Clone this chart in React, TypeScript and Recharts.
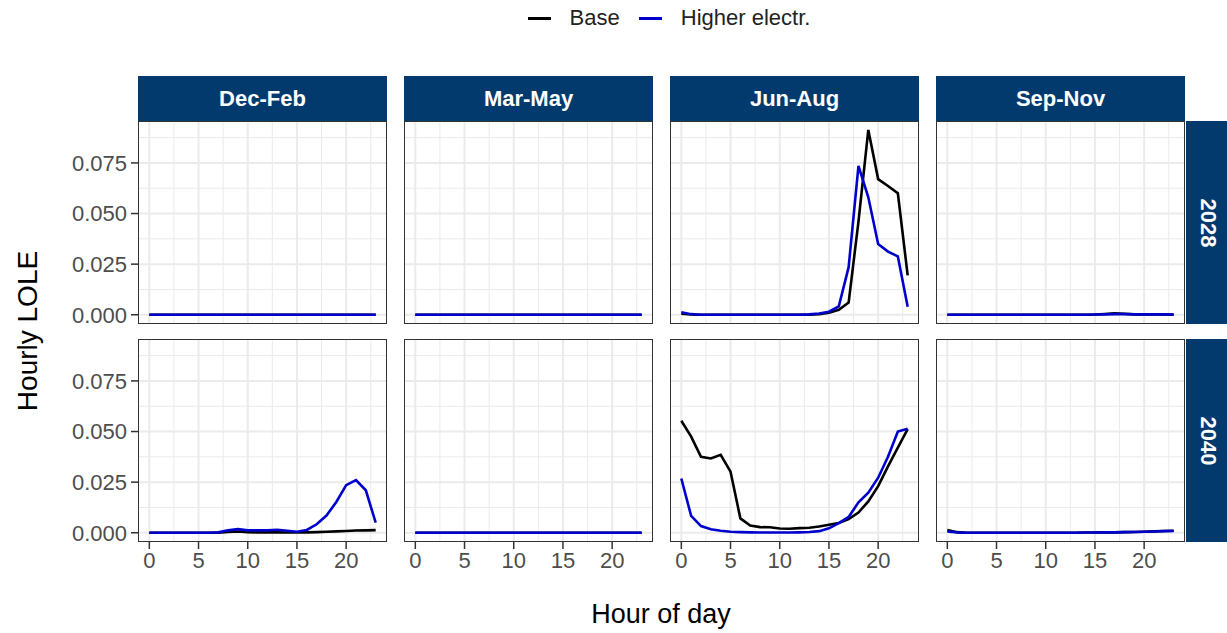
import React from "react";
import { CartesianGrid, Line, LineChart, XAxis, YAxis } from "recharts";

// hour of day, shared by every panel
const hours = [0, 1, 2, 3, 4, 5, 6, 7, 8, 9, 10, 11, 12, 13, 14, 15, 16, 17, 18, 19, 20, 21, 22, 23];

const seasons = ["Dec-Feb", "Mar-May", "Jun-Aug", "Sep-Nov"];
const years = ["2028", "2040"];

const yTicks = [0, 0.025, 0.05, 0.075];
const yMinor = [0.0125, 0.0375, 0.0625, 0.0875];
const xTicks = [0, 5, 10, 15, 20];
const xMinor = [2.5, 7.5, 12.5, 17.5, 22.5];

const zeros = [0, 0, 0, 0, 0, 0, 0, 0, 0, 0, 0, 0, 0, 0, 0, 0, 0, 0, 0, 0, 0, 0, 0, 0];

// 2028
const decFeb2028Base = zeros;
const decFeb2028High = zeros;
const marMay2028Base = zeros;
const marMay2028High = zeros;
const junAug2028Base = [0.0005, 0.0001, 0, 0, 0, 0, 0, 0, 0, 0, 0, 0, 0, 0, 0.0003, 0.001, 0.0025, 0.006, 0.046, 0.0913, 0.067, 0.0636, 0.06, 0.0195];
const junAug2028High = [0.0012, 0.0003, 0, 0, 0, 0, 0, 0, 0, 0, 0, 0, 0, 0.0002, 0.0006, 0.0015, 0.0042, 0.0235, 0.0735, 0.058, 0.035, 0.0312, 0.0288, 0.004];
const sepNov2028Base = [0, 0, 0, 0, 0, 0, 0, 0, 0, 0, 0, 0, 0, 0, 0, 0.0001, 0.0004, 0.0007, 0.0005, 0.0002, 0.0002, 0.0002, 0.0001, 0];
const sepNov2028High = [0, 0, 0, 0, 0, 0, 0, 0, 0, 0, 0, 0, 0, 0, 0, 0.0001, 0.0002, 0.0003, 0.0003, 0.0002, 0.0002, 0.0002, 0.0002, 0.0001];

// 2040
const decFeb2040Base = [0, 0, 0, 0, 0, 0, 0, 0, 0.0004, 0.0006, 0.0003, 0.0002, 0.0002, 0.0002, 0.0001, 0.0001, 0.0002, 0.0003, 0.0005, 0.0007, 0.0009, 0.0011, 0.0012, 0.0013];
const decFeb2040High = [0, 0, 0, 0, 0, 0, 0, 0.0002, 0.0012, 0.0018, 0.0012, 0.0012, 0.0012, 0.0015, 0.001, 0.0005, 0.0014, 0.0042, 0.0085, 0.0152, 0.0235, 0.026, 0.021, 0.005];
const marMay2040Base = zeros;
const marMay2040High = zeros;
const junAug2040Base = [0.0553, 0.0475, 0.0375, 0.0367, 0.0385, 0.0302, 0.0071, 0.0036, 0.0028, 0.0027, 0.0021, 0.002, 0.0023, 0.0025, 0.0031, 0.004, 0.0048, 0.0068, 0.01, 0.0155, 0.023, 0.0328, 0.042, 0.0512];
const junAug2040High = [0.0268, 0.0083, 0.0033, 0.0017, 0.001, 0.0005, 0.0003, 0.0002, 0.0001, 0.0001, 0.0001, 0.0001, 0.0002, 0.0004, 0.0008, 0.0022, 0.0048, 0.0078, 0.015, 0.0198, 0.0272, 0.0375, 0.05, 0.0514];
const sepNov2040Base = [0.0013, 0.0003, 0, 0, 0, 0, 0, 0, 0, 0, 0, 0, 0, 0, 0.0001, 0.0001, 0.0002, 0.0002, 0.0003, 0.0004, 0.0005, 0.0007, 0.0009, 0.001];
const sepNov2040High = [0.0007, 0.0002, 0, 0, 0, 0, 0, 0, 0, 0, 0, 0, 0, 0, 0.0001, 0.0001, 0.0002, 0.0002, 0.0003, 0.0004, 0.0005, 0.0006, 0.0008, 0.0009];

const series: Record<string, [number[], number[]][]> = {
  "2028": [
    [decFeb2028Base, decFeb2028High],
    [marMay2028Base, marMay2028High],
    [junAug2028Base, junAug2028High],
    [sepNov2028Base, sepNov2028High],
  ],
  "2040": [
    [decFeb2040Base, decFeb2040High],
    [marMay2040Base, marMay2040High],
    [junAug2040Base, junAug2040High],
    [sepNov2040Base, sepNov2040High],
  ],
};

const NAVY = "#033a6e";
const BLUE = "#0000cd";
const GRID = "#ebebeb";
const FONT = "'Liberation Sans', Arial, sans-serif";

const PANEL_W = 249;
const PANEL_H = 203;
const COL_X = [138, 404, 670, 936];
const ROW_Y = [121, 339];
const STRIP_TOP = 76;
const Y_AXIS_W = 80;
const X_AXIS_H = 40;
// spare room under top-row panels so the lowest tick label is not clipped
const PAD_B = 14;

function Panel({ row, col }: { row: number; col: number }) {
  const year = years[row];
  const [base, high] = series[year][col];
  const data = hours.map((h, i) => ({ hour: h, base: base[i], high: high[i] }));
  const showY = col === 0;
  const showX = row === 1;
  const padB = showX ? 0 : PAD_B;
  const left = COL_X[col] - (showY ? Y_AXIS_W : 0);
  const width = PANEL_W + (showY ? Y_AXIS_W : 0);
  const height = PANEL_H + (showX ? X_AXIS_H : 0) + padB;

  return (
    <>
      <div style={{ position: "absolute", left, top: ROW_Y[row] }}>
        <LineChart width={width} height={height} data={data} margin={{ top: 0, right: 0, bottom: padB, left: 0 }}>
          <CartesianGrid stroke={GRID} strokeWidth={1} horizontalValues={yMinor} verticalValues={xMinor} />
          <CartesianGrid stroke={GRID} strokeWidth={2} horizontalValues={yTicks} verticalValues={xTicks} />
          <XAxis
            type="number"
            dataKey="hour"
            domain={[-1.15, 24.15]}
            ticks={xTicks}
            interval={0}
            allowDataOverflow
            hide={!showX}
            height={X_AXIS_H}
            axisLine={false}
            tickSize={7}
            tickMargin={3}
            tickLine={{ stroke: "#333", strokeWidth: 1.5 }}
            tick={{ fontSize: 22, fill: "#4d4d4d", fontFamily: FONT }}
          />
          <YAxis
            type="number"
            domain={[-0.00456, 0.0957]}
            ticks={yTicks}
            interval={0}
            allowDataOverflow
            hide={!showY}
            width={Y_AXIS_W}
            axisLine={false}
            tickSize={7}
            tickMargin={4}
            tickLine={{ stroke: "#333", strokeWidth: 1.5 }}
            tick={{ fontSize: 22, fill: "#4d4d4d", fontFamily: FONT }}
            tickFormatter={(v: number) => v.toFixed(3)}
          />
          <Line type="linear" dataKey="base" stroke="#000" strokeWidth={2.6} dot={false} isAnimationActive={false} />
          <Line type="linear" dataKey="high" stroke={BLUE} strokeWidth={2.6} dot={false} isAnimationActive={false} />
        </LineChart>
      </div>
      <div
        style={{
          position: "absolute",
          left: COL_X[col],
          top: ROW_Y[row],
          width: PANEL_W,
          height: PANEL_H,
          border: "1.5px solid #333",
          boxSizing: "border-box",
          pointerEvents: "none",
        }}
      />
    </>
  );
}

export default function App() {
  return (
    <div style={{ position: "relative", width: 1227, height: 633, background: "#fff", fontFamily: FONT, overflow: "hidden" }}>
      <style>{`body { margin: 0; }`}</style>

      {/* legend */}
      <div style={{ position: "absolute", top: 5, left: 0, width: 1338, display: "flex", justifyContent: "center", alignItems: "center", fontSize: 22, color: "#222" }}>
        <span style={{ display: "inline-block", width: 23, height: 3, background: "#000", marginRight: 19 }} />
        <span style={{ marginRight: 19 }}>Base</span>
        <span style={{ display: "inline-block", width: 23, height: 3, background: BLUE, marginRight: 19 }} />
        <span>Higher electr.</span>
      </div>

      {/* season strips */}
      {seasons.map((s, c) => (
        <div
          key={s}
          style={{
            position: "absolute",
            left: COL_X[c],
            top: STRIP_TOP,
            width: PANEL_W,
            height: ROW_Y[0] - STRIP_TOP,
            background: NAVY,
            color: "#fff",
            fontWeight: "bold",
            fontSize: 22,
            display: "flex",
            alignItems: "center",
            justifyContent: "center",
          }}
        >
          {s}
        </div>
      ))}

      {/* year strips */}
      {years.map((y, r) => (
        <div
          key={y}
          style={{
            position: "absolute",
            left: COL_X[3] + PANEL_W + 1,
            top: ROW_Y[r],
            width: 45,
            height: PANEL_H,
            background: NAVY,
            color: "#fff",
            fontWeight: "bold",
            fontSize: 22,
            display: "flex",
            alignItems: "center",
            justifyContent: "center",
          }}
        >
          <span style={{ transform: "rotate(90deg)", display: "inline-block" }}>{y}</span>
        </div>
      ))}

      {years.map((_, r) => seasons.map((_, c) => <Panel key={`${r}-${c}`} row={r} col={c} />))}

      {/* axis titles */}
      <div style={{ position: "absolute", left: 28, top: 331, transform: "translate(-50%, -50%) rotate(-90deg)", fontSize: 28, color: "#000", whiteSpace: "nowrap" }}>
        Hourly LOLE
      </div>
      <div style={{ position: "absolute", left: 661, top: 614, transform: "translate(-50%, -50%)", fontSize: 27, color: "#000", whiteSpace: "nowrap" }}>
        Hour of day
      </div>
    </div>
  );
}
